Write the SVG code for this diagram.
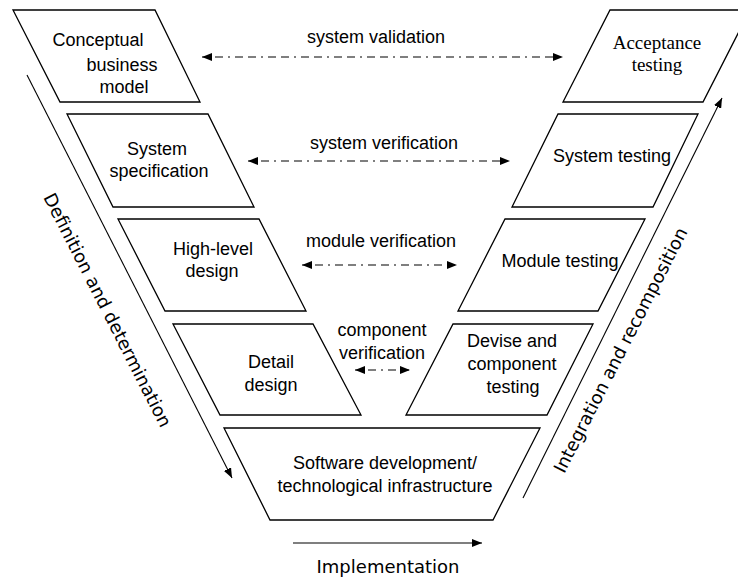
<svg xmlns="http://www.w3.org/2000/svg" width="738" height="581" viewBox="0 0 738 581">
<defs>
<marker id="ah" viewBox="0 0 10 8" refX="10" refY="4" markerWidth="10" markerHeight="8" markerUnits="userSpaceOnUse" orient="auto-start-reverse"><path d="M0,0 L10,4 L0,8 z" fill="#000"/></marker>
<style>
.box{fill:#fff;stroke:#000;stroke-width:1.3}
.t{font-family:"Liberation Sans",Arial,sans-serif;font-size:18px;text-anchor:middle;fill:#000}
.ts{font-family:"Liberation Serif","Times New Roman",serif;font-size:19px;text-anchor:middle;fill:#000}
.tc{font-family:"DejaVu Sans",sans-serif;font-size:18px;text-anchor:middle;fill:#000}
.dash{fill:none;stroke:#000;stroke-width:1.1;stroke-dasharray:8 5 8 5 2 5}
.solid{fill:none;stroke:#000;stroke-width:1.1}
</style>
</defs>
<rect width="738" height="581" fill="#fff"/>
<g id="conceptual"><polygon class="box" points="13,10 155,10 200,102 60,102"/><text class="t" x="98" y="46">Conceptual</text><text class="t" x="122" y="71">business</text><text class="t" x="124" y="93">model</text></g>
<g id="system-spec"><polygon class="box" points="67,114 208,114 254,207 113,207"/><text class="t" x="157" y="155">System</text><text class="t" x="159" y="177">specification</text></g>
<g id="high-level"><polygon class="box" points="118,219 259,219 306,311 165,311"/><text class="t" x="213" y="255">High-level</text><text class="t" x="212" y="277">design</text></g>
<g id="detail"><polygon class="box" points="173,324 313,324 361,415 220,415"/><text class="t" x="271" y="368">Detail</text><text class="t" x="271" y="391">design</text></g>
<g id="software"><polygon class="box" points="224,428 540,428 493,520 270,520"/><text class="t" x="385" y="469">Software development/</text><text class="t" x="385" y="492">technological infrastructure</text></g>
<g id="devise"><polygon class="box" points="453,324 593,324 547,415 406,415"/><text class="t" x="512" y="347">Devise and</text><text class="t" x="512" y="370">component</text><text class="t" x="513" y="393">testing</text></g>
<g id="module-testing"><polygon class="box" points="505,219 645,219 598,311 458,311"/><text class="t" x="560" y="267">Module testing</text></g>
<g id="system-testing"><polygon class="box" points="558,114 698,114 653,207 512,207"/><text class="t" x="612" y="162">System testing</text></g>
<g id="acceptance"><polygon class="box" points="610,10 750,10 703,102 563,102"/><text class="ts" x="657" y="49">Acceptance</text><text class="ts" x="657" y="71">testing</text></g>
<g id="connectors">
<line class="dash" x1="202" y1="57" x2="563" y2="57" marker-start="url(#ah)" marker-end="url(#ah)"/>
<line class="dash" x1="248" y1="161" x2="510" y2="161" marker-start="url(#ah)" marker-end="url(#ah)"/>
<line class="dash" x1="302" y1="265" x2="457" y2="265" marker-start="url(#ah)" marker-end="url(#ah)"/>
<line class="dash" x1="355" y1="370" x2="410" y2="370" marker-start="url(#ah)" marker-end="url(#ah)"/>
<line class="solid" x1="27" y1="75" x2="232" y2="478" marker-end="url(#ah)"/>
<line class="solid" x1="523" y1="498" x2="722" y2="98" marker-end="url(#ah)"/>
<line class="solid" x1="293" y1="543" x2="482" y2="543" marker-end="url(#ah)"/>
</g>
<g id="labels">
<text class="t" x="376" y="43">system validation</text>
<text class="t" x="384" y="149">system verification</text>
<text class="t" x="381" y="247">module verification</text>
<text class="t" x="382" y="336">component</text>
<text class="t" x="382" y="359">verification</text>
<text class="tc" x="388" y="573">Implementation</text>
<text class="tc" transform="translate(102,313) rotate(63)">Definition and determination</text>
<text class="tc" transform="translate(626,353) rotate(-63)">Integration and recomposition</text>
</g>
</svg>
